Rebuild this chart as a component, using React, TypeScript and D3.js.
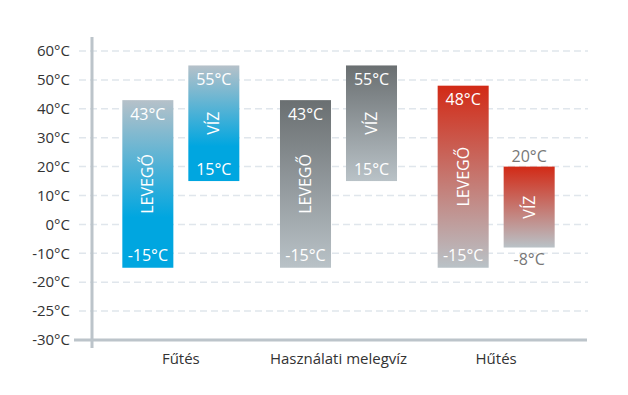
import React, { useEffect, useRef } from "react";
import * as d3 from "d3";

const categories = ["Fűtés", "Használati melegvíz", "Hűtés"];
const seriesNames = ["LEVEGŐ", "VÍZ"];
const levegoMax = [43, 43, 48];
const levegoMin = [-15, -15, -15];
const vizMax = [55, 55, 20];
const vizMin = [15, 15, -8];
const tickValues = [60, 50, 40, 30, 20, 10, 0, -10, -20, -30, -40];
const tickLabels = ["60°C", "50°C", "40°C", "30°C", "20°C", "10°C", "0°C", "-10°C", "-20°C", "-25°C", "-30°C"];

// top / bottom colours of each category's gradient
const gradTop = ["#b6c1c9", "#6a6f71", "#d22a16"];
const gradBottom = ["#00a6e0", "#b9c2c7", "#b9c2c7"];

export default function App() {
  const ref = useRef<SVGSVGElement>(null);

  useEffect(() => {
    const svg = d3.select(ref.current);
    svg.selectAll("*").remove();
    const font = "'Open Sans', Lato, sans-serif";

    const y = d3.scaleLinear().domain([-40, 60]).range([340, 51]);
    const x = d3.scaleBand().domain(categories).range([102, 575]);
    const inner = d3.scaleBand().domain(seriesNames).range([0, x.bandwidth()]).paddingInner(0.227).paddingOuter(0.308);

    const defs = svg.append("defs");
    categories.forEach((c, i) => {
      const g = defs.append("linearGradient").attr("id", "grad" + i).attr("x1", 0).attr("y1", 0).attr("x2", 0).attr("y2", 1);
      g.append("stop").attr("offset", "0%").attr("stop-color", gradTop[i]);
      g.append("stop").attr("offset", i === 0 ? "70%" : "100%").attr("stop-color", gradBottom[i]);
      g.append("stop").attr("offset", "100%").attr("stop-color", gradBottom[i]);
    });

    // grid
    svg.append("g")
      .selectAll("line")
      .data(tickValues.slice(0, -1))
      .join("line")
      .attr("x1", 79)
      .attr("x2", 588)
      .attr("y1", d => y(d))
      .attr("y2", d => y(d))
      .attr("stroke", "#e0e6ec")
      .attr("stroke-width", 1.5)
      .attr("stroke-dasharray", "7,4");

    // y labels
    svg.append("g")
      .selectAll("text")
      .data(tickValues)
      .join("text")
      .attr("x", 70)
      .attr("y", d => y(d))
      .attr("dy", "0.35em")
      .attr("text-anchor", "end")
      .style("font-family", font)
      .style("font-size", "15px")
      .attr("fill", "#333")
      .text((d, i) => tickLabels[i]);

    // axes
    svg.append("line").attr("x1", 92).attr("x2", 92).attr("y1", 37).attr("y2", 348)
      .attr("stroke", "#bcc4ca").attr("stroke-width", 3);
    svg.append("line").attr("x1", 74).attr("x2", 587).attr("y1", y(-40)).attr("y2", y(-40))
      .attr("stroke", "#bcc4ca").attr("stroke-width", 3);

    // category labels
    svg.append("g")
      .selectAll("text")
      .data(categories)
      .join("text")
      .attr("x", d => (x(d) as number) + x.bandwidth() / 2)
      .attr("y", 359)
      .attr("dy", "0.35em")
      .attr("text-anchor", "middle")
      .style("font-family", font)
      .style("font-size", "15px")
      .attr("fill", "#333")
      .text(d => d);

    const bars: any[] = [];
    categories.forEach((c, i) => {
      bars.push({ cat: c, ci: i, name: seriesNames[0], max: levegoMax[i], min: levegoMin[i] });
      bars.push({ cat: c, ci: i, name: seriesNames[1], max: vizMax[i], min: vizMin[i] });
    });

    const bg = svg.append("g").selectAll("g").data(bars).join("g")
      .attr("transform", d => `translate(${(x(d.cat) as number) + (inner(d.name) as number)},0)`);
    const bw = inner.bandwidth();

    bg.append("rect")
      .attr("x", 0)
      .attr("y", d => y(d.max))
      .attr("width", bw)
      .attr("height", d => y(d.min) - y(d.max))
      .attr("fill", d => `url(#grad${d.ci})`);

    const small = (d: any) => d.max - d.min < 30;

    bg.append("text")
      .attr("x", bw / 2)
      .attr("y", d => (small(d) ? y(d.max) - 10 : y(d.max) + 14))
      .attr("dy", "0.35em")
      .attr("text-anchor", "middle")
      .style("font-family", font)
      .style("font-size", "16px")
      .attr("fill", d => (small(d) ? "#777" : "#fff"))
      .text(d => d.max + "°C");

    bg.append("text")
      .attr("x", bw / 2)
      .attr("y", d => (small(d) ? y(d.min) + 12 : y(d.min) - 12))
      .attr("dy", "0.35em")
      .attr("text-anchor", "middle")
      .style("font-family", font)
      .style("font-size", "16px")
      .attr("fill", d => (small(d) ? "#777" : "#fff"))
      .text(d => d.min + "°C");

    bg.append("text")
      .attr("transform", d => `translate(${bw / 2},${(y(d.max) + y(d.min)) / 2}) rotate(-90)`)
      .attr("dy", "0.35em")
      .attr("text-anchor", "middle")
      .style("font-family", font)
      .style("font-size", "16px")
      .attr("fill", "#fff")
      .text(d => d.name);
  }, []);

  return (
    <svg ref={ref} width={628} height={395} style={{ position: "absolute", left: 0, top: 0, background: "#fff" }} />
  );
}
